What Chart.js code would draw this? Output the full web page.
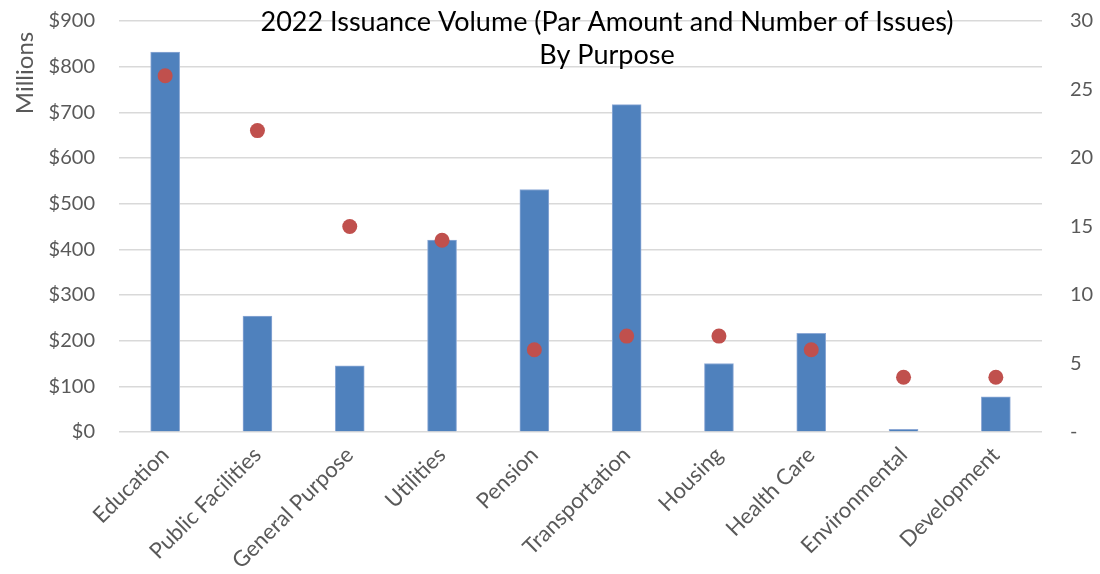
<!DOCTYPE html>
<html>
<head>
<meta charset="utf-8">
<title>2022 Issuance Volume by Purpose</title>
<script src="https://cdn.jsdelivr.net/npm/chart.js@4/dist/chart.umd.min.js"></script>
<style>
  body { margin: 0; background: #fff; }
  canvas { display: block; }
</style>
</head>
<body>
<canvas id="chart" width="1100" height="574"></canvas>
<script>
const categories = ['Education', 'Public Facilities', 'General Purpose', 'Utilities', 'Pension',
  'Transportation', 'Housing', 'Health Care', 'Environmental', 'Development'];
// par amount, $ millions
const parAmount = [832, 254, 145, 420, 531, 717, 150, 216, 6, 77];
// number of issues
const issueCount = [26, 22, 15, 14, 6, 7, 7, 6, 4, 4];

const titleLines = ['2022 Issuance Volume (Par Amount and Number of Issues)', 'By Purpose'];
const fontFamily = 'Lato, "Open Sans", sans-serif';

// title + "Millions" sit on top of the plot area, like the Excel original
const overlayText = {
  id: 'overlayText',
  afterDraw(chart) {
    const ctx = chart.ctx;
    ctx.save();
    ctx.fillStyle = '#000';
    ctx.font = '27px ' + fontFamily;
    ctx.textAlign = 'center';
    ctx.textBaseline = 'middle';
    ctx.fillText(titleLines[0], 607, 22);
    ctx.fillText(titleLines[1], 607, 55);

    ctx.fillStyle = '#595959';
    ctx.font = '24px ' + fontFamily;
    ctx.translate(25, 73);
    ctx.rotate(-Math.PI / 2);
    ctx.fillText('Millions', 0, 0);
    ctx.restore();
  }
};

new Chart(document.getElementById('chart'), {
  data: {
    labels: categories,
    datasets: [
      {
        type: 'line',
        label: 'Number of Issues',
        data: issueCount,
        yAxisID: 'y1',
        showLine: false,
        pointRadius: 7.5,
        pointHoverRadius: 7.5,
        pointBackgroundColor: '#C0504D',
        pointBorderWidth: 0,
        order: 0
      },
      {
        type: 'bar',
        label: 'Par Amount',
        data: parAmount,
        yAxisID: 'y',
        backgroundColor: '#4F81BD',
        borderColor: '#8eaad6',
        borderWidth: 1,
        barThickness: 29,
        order: 1
      }
    ]
  },
  options: {
    responsive: false,
    animation: false,
    layout: { padding: { top: 21, left: 0, right: 0, bottom: 0 } },
    plugins: {
      legend: { display: false },
      title: { display: false },
      tooltip: { enabled: false }
    },
    scales: {
      x: {
        offset: true,
        grid: { display: false, drawTicks: false },
        border: { display: false },
        ticks: {
          color: '#595959',
          font: { family: fontFamily, size: 22 },
          minRotation: 45,
          maxRotation: 45,
          padding: 10,
          autoSkip: false
        },
        afterFit(scale) { scale.height = 142; }
      },
      y: {
        position: 'left',
        min: 0,
        max: 900,
        // invisible tick marks give the label gap without adding top padding
        grid: { color: '#d9d9d9', lineWidth: 1.5, drawTicks: true, tickLength: 24, tickColor: 'transparent' },
        border: { display: false },
        ticks: {
          stepSize: 100,
          color: '#595959',
          font: { family: fontFamily, size: 20 },
          padding: 0,
          callback: v => '$' + v
        },
        afterFit(scale) { scale.width = 119; }
      },
      y1: {
        position: 'right',
        min: 0,
        max: 30,
        grid: { display: true, drawOnChartArea: false, drawTicks: true, tickLength: 28, tickColor: 'transparent' },
        border: { display: false },
        ticks: {
          stepSize: 5,
          color: '#595959',
          font: { family: fontFamily, size: 20 },
          padding: 0,
          callback: v => (v === 0 ? '-' : v)
        },
        afterFit(scale) { scale.width = 58; }
      }
    }
  },
  plugins: [overlayText]
});
</script>
</body>
</html>
